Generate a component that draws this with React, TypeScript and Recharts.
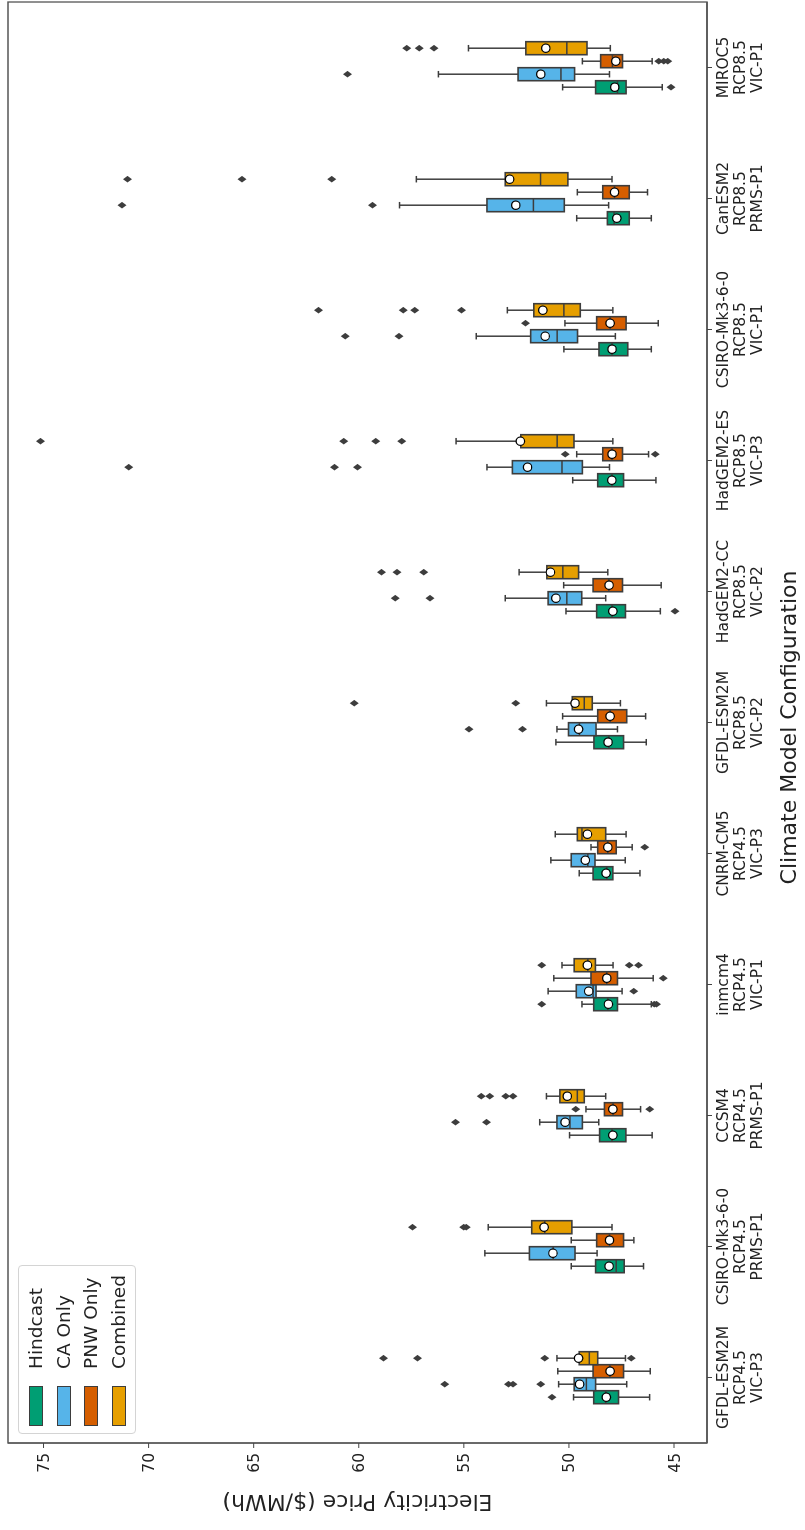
import React from "react"
import { ComposedChart, Bar, XAxis, YAxis, Legend, ReferenceArea } from "recharts"

const models = [
  "GFDL-ESM2M", "CSIRO-Mk3-6-0", "CCSM4", "inmcm4", "CNRM-CM5", "GFDL-ESM2M",
  "HadGEM2-CC", "HadGEM2-ES", "CSIRO-Mk3-6-0", "CanESM2", "MIROC5"
]
const scenarios = [
  "RCP4.5", "RCP4.5", "RCP4.5", "RCP4.5", "RCP4.5", "RCP8.5",
  "RCP8.5", "RCP8.5", "RCP8.5", "RCP8.5", "RCP8.5"
]
const hydroModels = [
  "VIC-P3", "PRMS-P1", "PRMS-P1", "VIC-P1", "VIC-P3", "VIC-P2",
  "VIC-P2", "VIC-P3", "VIC-P1", "PRMS-P1", "VIC-P1"
]

const seriesNames = ["Hindcast", "CA Only", "PNW Only", "Combined"]
const seriesColors = ["#009E73", "#56B4E9", "#D55E00", "#E69F00"]

const priceTicks = [45, 50, 55, 60, 65, 70, 75]
const priceDomain = [43.43, 76.69]

// [whisker low, q1, median, q3, whisker high, mean]
type Stats = number[]

const hindcastStats: Stats[] = [
  [46.16, 47.64, 48.25, 48.82, 49.78, 48.22],
  [46.45, 47.37, 47.75, 48.73, 49.89, 48.09],
  [46.04, 47.29, 47.95, 48.54, 49.97, 47.91],
  [46.08, 47.69, 48.15, 48.82, 49.38, 48.12],
  [46.62, 47.91, 48.2, 48.85, 49.51, 48.23],
  [46.32, 47.4, 48.1, 48.81, 50.62, 48.14],
  [45.65, 47.31, 47.95, 48.68, 50.14, 47.91],
  [45.86, 47.4, 47.95, 48.63, 49.82, 47.96],
  [46.08, 47.2, 47.95, 48.57, 50.24, 47.95],
  [46.08, 47.13, 47.85, 48.17, 49.63, 47.72],
  [45.56, 47.28, 47.69, 48.73, 50.3, 47.82]
]
const hindcastOutliers = [
  [50.81], [], [], [51.29, 45.94, 45.83], [], [], [44.95], [], [], [], [45.14]
]

const caStats: Stats[] = [
  [47.25, 48.73, 49.17, 49.75, 50.49, 49.49],
  [48.66, 49.71, 50.75, 51.88, 54.0, 50.76],
  [48.58, 49.36, 49.95, 50.57, 51.39, 50.18],
  [47.47, 48.71, 48.85, 49.65, 50.99, 49.06],
  [47.32, 48.76, 49.1, 49.89, 50.86, 49.22],
  [47.69, 48.71, 49.5, 50.02, 50.57, 49.54],
  [48.25, 49.39, 50.1, 50.99, 53.03, 50.62],
  [48.07, 49.36, 50.33, 52.69, 53.9, 51.97],
  [47.79, 49.59, 50.56, 51.82, 54.41, 51.13],
  [48.11, 50.22, 51.69, 53.9, 58.06, 52.53],
  [48.07, 49.73, 50.38, 52.42, 56.21, 51.34]
]
const caOutliers = [
  [55.91, 52.87, 52.66, 51.34], [], [55.4, 53.92], [46.91], [], [54.76, 52.21],
  [58.26, 56.61], [70.95, 61.15, 60.06], [60.64, 58.09], [71.27, 59.35], [60.53]
]

const pnwStats: Stats[] = [
  [46.13, 47.4, 48.05, 48.85, 50.53, 48.04],
  [46.91, 47.4, 48.07, 48.68, 49.89, 48.07],
  [46.59, 47.45, 47.9, 48.31, 49.19, 47.91],
  [45.99, 47.69, 48.2, 48.95, 50.72, 48.2],
  [46.99, 47.75, 48.15, 48.63, 48.95, 48.15],
  [46.35, 47.25, 48.04, 48.63, 50.3, 48.04],
  [45.61, 47.45, 48.1, 48.85, 50.25, 48.09],
  [46.21, 47.45, 47.95, 48.39, 49.63, 47.95],
  [45.75, 47.28, 48.04, 48.68, 50.19, 48.04],
  [46.26, 47.13, 47.83, 48.39, 49.6, 47.83],
  [46.04, 47.45, 47.93, 48.49, 49.36, 47.77]
]
const pnwOutliers = [
  [], [], [49.67, 46.16], [45.51], [46.39], [], [], [50.18, 45.89], [52.07], [],
  [45.73, 45.49, 45.3]
]

const combinedStats: Stats[] = [
  [47.31, 48.63, 49.03, 49.51, 50.57, 49.54],
  [47.95, 49.86, 51.15, 51.77, 53.84, 51.18],
  [48.25, 49.27, 49.6, 50.43, 51.07, 50.08],
  [47.9, 48.74, 49.1, 49.75, 50.33, 49.12],
  [47.28, 48.25, 49.38, 49.6, 50.65, 49.12],
  [47.55, 48.89, 49.27, 49.84, 51.07, 49.71],
  [48.15, 49.54, 50.29, 51.05, 52.37, 50.88],
  [47.91, 49.76, 50.56, 52.29, 55.37, 52.31],
  [47.91, 49.46, 50.24, 51.67, 52.93, 51.24],
  [47.95, 50.05, 51.35, 53.03, 57.26, 52.82],
  [48.03, 49.14, 50.1, 52.05, 54.78, 51.1]
]
const combinedOutliers = [
  [58.82, 57.2, 51.15, 47.04], [57.44, 55.0, 54.89], [54.17, 53.77, 53.01, 52.66],
  [51.29, 47.13, 46.69], [], [60.21, 52.53], [58.92, 58.18, 56.91],
  [75.14, 60.72, 59.19, 57.95], [61.92, 57.88, 57.34, 55.11], [71.0, 65.56, 61.29],
  [57.72, 57.12, 56.42]
]

const allStats = [hindcastStats, caStats, pnwStats, combinedStats]
const allOutliers = [hindcastOutliers, caOutliers, pnwOutliers, combinedOutliers]

const data = models.map((m, i) => {
  const stats = allStats.map(s => s[i])
  const outliers = allOutliers.map(o => o[i])
  const ranges = stats.map((st, s) => [
    Math.min(st[0], ...outliers[s]),
    Math.max(st[4], ...outliers[s])
  ])
  return { key: i, model: m, scenario: scenarios[i], hydro: hydroModels[i], stats, outliers, ranges }
})

const FONT = "DejaVu Sans"
const EDGE = "#3d3d3d"
const SPINE = "#555555"

// box drawn inside the [min, max] range bar, values placed along the bar's own pixel span
const makeBoxShape = (s: number) => (props: any) => {
  const { x, y, width, height, payload } = props
  const st = payload.stats[s]
  const out: number[] = payload.outliers[s]
  const [lo, hi] = payload.ranges[s]
  const top = Math.min(y, y + height)
  const bottom = Math.max(y, y + height)
  const py = (v: number) => bottom - ((v - lo) / (hi - lo)) * (bottom - top)
  const cx = x + width / 2
  const cap = width / 4
  const [wLo, q1, med, q3, wHi, mean] = st
  return (
    <g>
      <line x1={cx} x2={cx} y1={py(q3)} y2={py(wHi)} stroke={EDGE} strokeWidth={1.5} />
      <line x1={cx} x2={cx} y1={py(q1)} y2={py(wLo)} stroke={EDGE} strokeWidth={1.5} />
      <line x1={cx - cap} x2={cx + cap} y1={py(wHi)} y2={py(wHi)} stroke={EDGE} strokeWidth={1.5} />
      <line x1={cx - cap} x2={cx + cap} y1={py(wLo)} y2={py(wLo)} stroke={EDGE} strokeWidth={1.5} />
      <rect
        x={x}
        y={py(q3)}
        width={width}
        height={py(q1) - py(q3)}
        fill={seriesColors[s]}
        stroke={EDGE}
        strokeWidth={1.6}
      />
      <line x1={x} x2={x + width} y1={py(med)} y2={py(med)} stroke={EDGE} strokeWidth={1.5} />
      {out.map((v, k) => {
        const oy = py(v)
        return (
          <path
            key={k}
            d={`M${cx},${oy - 4.5} L${cx + 3.3},${oy} L${cx},${oy + 4.5} L${cx - 3.3},${oy} Z`}
            fill={EDGE}
          />
        )
      })}
      <circle cx={cx} cy={py(mean)} r={4.2} fill="#ffffff" stroke="#000000" strokeWidth={1.2} />
    </g>
  )
}

const CategoryTick = (props: any) => {
  const { x, y, payload } = props
  const row = data[payload.value]
  const lines = [row.model, row.scenario, row.hydro]
  const offs = [11.7, 29, 45.7]
  return (
    <g>
      {lines.map((t, k) => (
        <text key={k} x={x} y={y + offs[k]} textAnchor="middle" fontSize={15.5} fill="#222" fontFamily={FONT}>
          {t}
        </text>
      ))}
    </g>
  )
}

const XTitle = (props: any) => {
  const { viewBox } = props
  const cx = viewBox.x + viewBox.width / 2 - 5
  return (
    <text x={cx} y={796} textAnchor="middle" fontSize={22} fill="#222" fontFamily={FONT}>
      Climate Model Configuration
    </text>
  )
}

const YTitle = (props: any) => {
  const { viewBox } = props
  const cx = 27
  const cy = viewBox.y + viewBox.height / 2
  return (
    <text
      x={cx}
      y={cy}
      transform={`rotate(-90 ${cx} ${cy})`}
      textAnchor="middle"
      dominantBaseline="central"
      fontSize={22}
      fill="#222"
      fontFamily={FONT}
    >
      Electricity Price ($/MWh)
    </text>
  )
}

const LegendBox = () => (
  <div
    style={{
      width: 169,
      height: 118,
      boxSizing: "border-box",
      border: "1px solid #d4d4d4",
      borderRadius: 4,
      background: "rgba(255,255,255,0.8)",
      paddingTop: 3,
      fontFamily: FONT
    }}
  >
    {seriesNames.map((n, i) => (
      <div key={n} style={{ display: "flex", alignItems: "center", height: 27.7 }}>
        <div
          style={{
            marginLeft: 7,
            width: 40,
            height: 14,
            boxSizing: "border-box",
            background: seriesColors[i],
            border: `1px solid ${EDGE}`
          }}
        />
        <span style={{ marginLeft: 17, fontSize: 18.5, color: "#222", lineHeight: "20px" }}>{n}</span>
      </div>
    ))}
  </div>
)

export default function App() {
  return (
    <div
      style={{
        position: "fixed",
        left: 0,
        top: 0,
        width: 1530,
        height: 805,
        background: "#ffffff",
        transformOrigin: "0 0",
        transform: "translateY(1530px) rotate(-90deg)"
      }}
    >
      <style>{`body{margin:0;overflow:hidden}`}</style>
      <ComposedChart
        width={1530}
        height={805}
        data={data}
        margin={{ top: 8, right: 2, bottom: 0, left: 0 }}
        barCategoryGap="30%"
        barGap={0}
      >
        <XAxis
          dataKey="key"
          type="category"
          height={98}
          tick={<CategoryTick />}
          tickSize={5}
          tickMargin={4}
          tickLine={{ stroke: "#444" }}
          axisLine={{ stroke: SPINE, strokeWidth: 1.3 }}
          interval={0}
          label={<XTitle />}
        />
        <YAxis
          type="number"
          domain={priceDomain}
          ticks={priceTicks}
          allowDataOverflow
          width={87}
          tickSize={5}
          tickMargin={5}
          tick={{ fontSize: 15.5, fill: "#222", fontFamily: FONT }}
          tickLine={{ stroke: "#444" }}
          axisLine={{ stroke: SPINE, strokeWidth: 1.3 }}
          label={<YTitle />}
        />
        <ReferenceArea
          x1={0}
          x2={models.length - 1}
          y1={priceDomain[0]}
          y2={priceDomain[1]}
          fill="none"
          fillOpacity={0}
          stroke={SPINE}
          strokeWidth={1.3}
          ifOverflow="extendDomain"
        />
        <Legend
          layout="vertical"
          align="center"
          verticalAlign="middle"
          content={<LegendBox />}
          wrapperStyle={{ position: "absolute", left: 96, top: 18, width: 169, height: 118 }}
        />
        {seriesNames.map((n, s) => (
          <Bar
            key={n}
            name={n}
            dataKey={(d: any) => d.ranges[s]}
            fill={seriesColors[s]}
            shape={makeBoxShape(s)}
            isAnimationActive={false}
          />
        ))}
      </ComposedChart>
    </div>
  )
}
